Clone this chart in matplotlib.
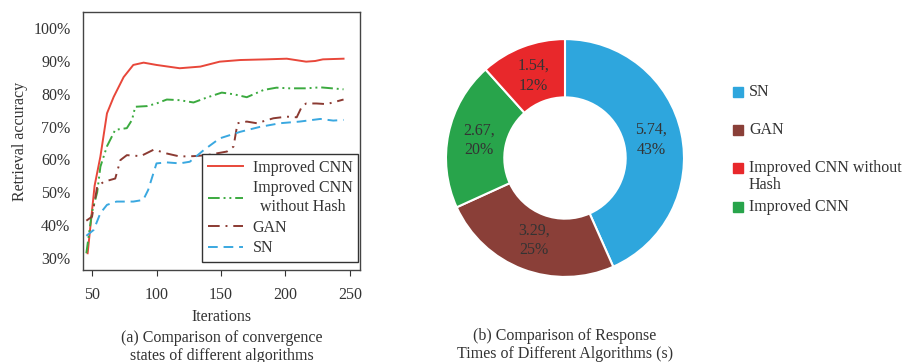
import numpy as np
import matplotlib.pyplot as plt
from matplotlib.patches import Rectangle

plt.rcParams['font.family'] = ['Liberation Serif', 'DejaVu Serif']
plt.rcParams['font.size'] = 11.5

# convergence curves (iterations, accuracy %)
cnn_x = [46.6, 52, 56.5, 61.6, 66.8, 74.5, 82, 90, 100, 118, 134, 149, 165, 185, 201, 216, 223, 229, 245]
cnn_y = [31.5, 52, 60.9, 74, 79, 85, 88.7, 89.4, 88.7, 87.7, 88.2, 89.7, 90.2, 90.4, 90.6, 89.7, 89.9, 90.4, 90.6]

nohash_x = [45.6, 50, 54, 56.5, 61.6, 68, 77, 81, 83.5, 92.6, 100, 108, 118, 128.7, 139, 150.6, 159.7, 170, 183, 193, 203, 216, 227, 245]
nohash_y = [31.5, 44, 50, 57.8, 64, 69, 69.5, 72, 76, 76.2, 77, 78.2, 78, 77.3, 78.8, 80.3, 79.8, 78.9, 81.1, 81.8, 81.6, 81.6, 81.9, 81.3]

gan_x = [45.6, 50, 54, 59, 68, 72, 77, 87.7, 98, 108, 118, 128.7, 139, 154.6, 159.7, 162.8, 170, 177.7, 190.6, 201, 208.7, 212.6, 216, 224, 232, 245]
gan_y = [41.4, 42.6, 51.7, 53.2, 54.2, 59.8, 61.3, 61, 63, 61.8, 60.9, 61, 61.3, 62.4, 63.9, 71, 71.5, 71, 72.5, 73, 72.8, 76, 77, 77, 76.8, 78.2]

sn_x = [45.6, 51.3, 56.5, 61.6, 69, 82, 89.7, 93.5, 100, 108, 118, 125.8, 136.5, 149, 165, 180.3, 195.8, 211, 227, 237, 245]
sn_y = [36.8, 38.6, 43.7, 46.2, 47.2, 47.2, 47.7, 50.7, 58.8, 59.1, 58.8, 59.3, 62.8, 66.4, 68.4, 69.9, 71, 71.5, 72.3, 71.8, 72]

# response times (s)
algos = ['SN', 'GAN', 'Improved CNN', 'Improved CNN without\nHash']
times = [5.74, 3.29, 2.67, 1.54]
pie_colors = ['#2EA6DD', '#8A3F38', '#28A44B', '#E8282B']
legend_order = [0, 1, 3, 2]

txt_color = '#333333'
W, H = 905, 362

fig = plt.figure(figsize=(9.05, 3.62), dpi=100)

# ---- (a) line chart
ax = fig.add_axes([0.0917, 0.254, 0.306, 0.713])
ax.plot(cnn_x, cnn_y, color='#E8473A', lw=1.4, label='Improved CNN')
ax.plot(nohash_x, nohash_y, color='#3BAA3F', lw=1.4, linestyle=(0, (6, 2, 1, 2, 1, 2)),
        label='Improved CNN\nwithout Hash')
ax.plot(gan_x, gan_y, color='#8B3A32', lw=1.4, linestyle=(0, (6, 3, 1, 3)), label='GAN')
ax.plot(sn_x, sn_y, color='#3AA8E0', lw=1.4, linestyle=(0, (5, 3)), label='SN')

ax.set_xlim(43, 257.7)
ax.set_ylim(26.4, 104.8)
ax.set_xticks([50, 100, 150, 200, 250])
ax.set_yticks(np.arange(30, 101, 10))
ax.set_yticklabels([f'{v}%' for v in range(30, 101, 10)])
ax.tick_params(axis='y', length=0, pad=9, colors=txt_color)
ax.tick_params(axis='x', length=4, direction='out', pad=8, colors=txt_color)
for s in ax.spines.values():
    s.set_color('#444444')
    s.set_linewidth(1.0)
ax.set_ylabel('Retrieval accuracy', color=txt_color, labelpad=4)

leg = ax.legend(loc='lower right', bbox_to_anchor=(0.993, 0.031), borderaxespad=0,
                fancybox=False, edgecolor=txt_color, framealpha=1, handlelength=2.2,
                borderpad=0.35, labelspacing=0.3, handletextpad=0.6, fontsize=11.5)
leg.get_frame().set_linewidth(1.0)
for t in leg.get_texts():
    t.set_multialignment('center')
    t.set_color(txt_color)

fig.text(0.245, 1 - 317 / H, 'Iterations', ha='center', va='center', color=txt_color)
fig.text(0.245, 1 - 347 / H, '(a) Comparison of convergence\nstates of different algorithms',
         ha='center', va='center', color=txt_color, linespacing=1.25)

# ---- (b) donut chart
pax = fig.add_axes([0.4928, 0.235, 0.263, 0.657])
wedges, _ = pax.pie(times, colors=pie_colors, startangle=90, counterclock=False,
                    radius=1.0, wedgeprops=dict(width=0.49, edgecolor='white', linewidth=1.5))
pax.set_xlim(-1, 1)
pax.set_ylim(-1, 1)
pax.set_aspect('auto')

total = sum(times)
for w, v in zip(wedges, times):
    ang = np.deg2rad((w.theta1 + w.theta2) / 2)
    r = 0.74
    pax.text(r * np.cos(ang), r * np.sin(ang), f'{v:.2f},\n{v / total * 100:.0f}%',
             ha='center', va='center', color=txt_color, linespacing=1.3)

# legend for the donut, first text line level with each swatch
leg_y = [92, 130, 168, 207]
for yy, i in zip(leg_y, legend_order):
    fig.patches.append(Rectangle((733 / W, 1 - (yy + 5) / H), 10 / W, 10 / H,
                                 color=pie_colors[i], transform=fig.transFigure))
    fig.text(749 / W, 1 - (yy - 8) / H, algos[i], ha='left', va='top',
             color=txt_color, linespacing=1.05)

fig.text(0.624, 1 - 345 / H, '(b) Comparison of Response\nTimes of Different Algorithms (s)',
         ha='center', va='center', color=txt_color, linespacing=1.25)

fig.savefig('out.png', dpi=100)
